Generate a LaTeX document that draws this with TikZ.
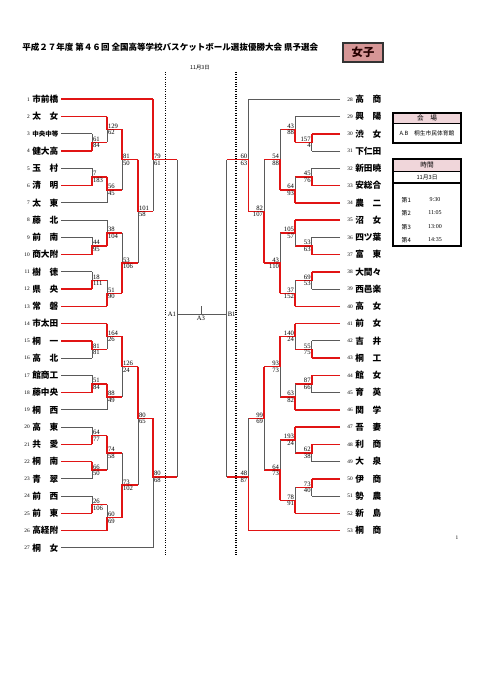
\documentclass[tikz,border=0pt]{standalone}
\usepackage{fontspec}
\setmainfont{Liberation Serif}
\newfontfamily\jp{Noto Sans CJK JP}
\usetikzlibrary{positioning}

\definecolor{winred}{RGB}{225,20,20}
\definecolor{losegray}{RGB}{90,90,90}
\definecolor{headpink}{RGB}{240,214,218}
\definecolor{tagpink}{RGB}{214,150,150}

\tikzset{
  win/.style={draw=winred,line width=1.2pt},
  lose/.style={draw=losegray,line width=0.55pt},
  score/.style={font=\fontsize{5}{5}\selectfont,inner sep=0.6pt},
  team/.style={inner sep=0pt},
  num/.style={font=\fontsize{4}{4}\selectfont,inner sep=0pt},
  infobox/.style={draw=black,line width=1pt},
}

\newcounter{mt}
\newcommand{\ry}[1]{82.05+17.25*(#1)}
% x, top t, bottom t, out t, winner t, top score, bottom score, next x, side
\newcommand{\match}[9]{%
  \stepcounter{mt}%
  \draw[lose] (#1,{\ry{#2}}) -- (#1,{\ry{#3}});
  \draw[win] (#1,{\ry{#5}}) -- (#1,{\ry{#4}}) -- (#8,{\ry{#4}});
  \node[score,anchor=south #9] (m\arabic{mt}a) at (#1,{\ry{#4}}) {#6};
  \node[score,anchor=north #9] (m\arabic{mt}b) at (#1,{\ry{#4}}) {#7};}

\begin{document}
\begin{tikzpicture}[x=0.75pt,y=-0.75pt]
\useasboundingbox (0,0) rectangle (481,680);

% title
\node[anchor=west,font=\jp\bfseries\fontsize{6.4}{7}\selectfont,inner sep=0pt] (title) at (22,47) {平成２７年度 第４６回 全国高等学校バスケットボール選抜優勝大会 県予選会};
\draw[fill=tagpink,draw=black!80,line width=0.8pt] (343,43) rectangle (383,62);
\node[font=\jp\bfseries\fontsize{8.5}{9}\selectfont,text=black!85!red] (girls) at (363,52.5) {女子};
\node[font=\jp\fontsize{4}{4}\selectfont,inner sep=0pt] (day) at (200,68) {11月3日};

% court lines
\draw[densely dotted,line width=0.8pt] (165.7,72) -- (165.7,556);
\draw[densely dotted,line width=0.8pt] (236,72) -- (236,556);

% left teams
\foreach \name [count=\k] in {市前橋,太　女,中央中等,健大高,玉　村,清　明,太　東,藤　北,前　南,商大附,樹　徳,県　央,常　磐,市太田,桐　一,高　北,館商工,藤中央,桐　西,高　東,共　愛,桐　南,青　翠,前　西,前　東,高経附,桐　女}{
  \pgfmathsetmacro{\fs}{\k==3 ? 4.9 : 6.5}
  \node[team,anchor=west,font=\jp\bfseries\fontsize{\fs}{7}\selectfont] (L\k) at (32,{\ry{\k}}) {\name};
  \node[num,anchor=east] (nL\k) at (30,{\ry{\k}}) {\k};
}

% right teams
\foreach \name [count=\k] in {高　商,興　陽,渋　女,下仁田,新田暁,安総合,農　二,沼　女,四ツ葉,富　東,大間々,西邑楽,高　女,前　女,吉　井,桐　工,館　女,育　英,関　学,吾　妻,利　商,大　泉,伊　商,勢　農,新　島,桐　商}{
  \pgfmathtruncatemacro{\nr}{\k+27}
  \node[team,anchor=west,font=\jp\bfseries\fontsize{6.5}{7}\selectfont] (R\nr) at (355,{\ry{\k}}) {\name};
  \node[num,anchor=east] (nR\nr) at (353,{\ry{\k}}) {\nr};
}

% left team lines
\foreach \k/\xe/\st in {1/153/win,2/107/win,3/92/lose,4/92/win,5/92/lose,6/92/win,7/107/lose,8/107/lose,9/92/lose,10/92/win,11/92/lose,12/92/win,13/107/win,14/107/win,15/92/win,16/92/lose,17/92/lose,18/92/win,19/107/lose,20/92/lose,21/92/win,22/92/win,23/92/lose,24/92/lose,25/92/win,26/107/win,27/153/lose}
  \draw[\st] (61,{\ry{\k}}) -- (\xe,{\ry{\k}});

% right team lines
\foreach \k/\xe/\st in {1/248.3/lose,2/295/lose,3/311.7/win,4/311.7/lose,5/311.7/lose,6/311.7/win,7/295/win,8/295/win,9/311.7/lose,10/311.7/win,11/311.7/win,12/311.7/lose,13/295/win,14/295/win,15/311.7/lose,16/311.7/win,17/311.7/win,18/311.7/lose,19/295/win,20/295/win,21/311.7/win,22/311.7/lose,23/311.7/win,24/311.7/lose,25/295/win,26/248.3/win}
  \draw[\st] (340,{\ry{\k}}) -- (\xe,{\ry{\k}});

% left block
\match{92}{3}{4}{3.5}{4}{61}{84}{107}{west}
\match{107}{2}{3.5}{2.75}{2}{129}{62}{122}{west}
\match{92}{5}{6}{5.5}{6}{7}{183}{107}{west}
\match{107}{5.5}{7}{6.25}{5.5}{56}{45}{122}{west}
\match{122}{2.75}{6.25}{4.5}{2.75}{81}{50}{138}{west}
\match{92}{9}{10}{9.5}{10}{44}{95}{107}{west}
\match{107}{8}{9.5}{8.75}{9.5}{38}{104}{122}{west}
\match{92}{11}{12}{11.5}{12}{18}{111}{107}{west}
\match{107}{11.5}{13}{12.25}{13}{51}{90}{122}{west}
\match{122}{8.75}{12.25}{10.5}{12.25}{53}{106}{138}{west}
\match{138}{4.5}{10.5}{7.5}{4.5}{101}{58}{153}{west}
\match{153}{1}{7.5}{4.5}{1}{79}{61}{177}{west}
\match{92}{15}{16}{15.5}{15}{81}{81}{107}{west}
\match{107}{14}{15.5}{14.75}{14}{164}{26}{122}{west}
\match{92}{17}{18}{17.5}{18}{51}{84}{107}{west}
\match{107}{17.5}{19}{18.25}{17.5}{88}{49}{122}{west}
\match{122}{14.75}{18.25}{16.5}{14.75}{126}{24}{138}{west}
\match{92}{20}{21}{20.5}{21}{64}{77}{107}{west}
\match{92}{22}{23}{22.5}{22}{66}{50}{107}{west}
\match{107}{20.5}{22.5}{21.5}{20.5}{74}{58}{122}{west}
\match{92}{24}{25}{24.5}{25}{26}{106}{107}{west}
\match{107}{24.5}{26}{25.25}{26}{60}{69}{122}{west}
\match{122}{21.5}{25.25}{23.375}{25.25}{73}{102}{138}{west}
\match{138}{16.5}{23.375}{19.5}{16.5}{80}{65}{153}{west}
\match{153}{19.5}{27}{22.9}{19.5}{80}{68}{177}{west}

% right block
\match{311.7}{3}{4}{3.5}{3}{157}{4}{295}{east}
\match{295}{2}{3.5}{2.75}{3.5}{43}{88}{280}{east}
\match{311.7}{5}{6}{5.5}{6}{45}{76}{295}{east}
\match{295}{5.5}{7}{6.25}{7}{64}{93}{280}{east}
\match{280}{2.75}{6.25}{4.5}{6.25}{54}{88}{264}{east}
\match{311.7}{9}{10}{9.5}{10}{53}{63}{295}{east}
\match{295}{8}{9.5}{8.75}{8}{105}{57}{280}{east}
\match{311.7}{11}{12}{11.5}{11}{69}{53}{295}{east}
\match{295}{11.5}{13}{12.25}{13}{37}{152}{280}{east}
\match{280}{8.75}{12.25}{10.5}{12.25}{43}{110}{264}{east}
\match{264}{4.5}{10.5}{7.5}{10.5}{82}{107}{248.3}{east}
\match{248.3}{1}{7.5}{4.5}{7.5}{60}{63}{226.7}{east}
\match{311.7}{15}{16}{15.5}{16}{55}{75}{295}{east}
\match{295}{14}{15.5}{14.75}{14}{140}{24}{280}{east}
\match{311.7}{17}{18}{17.5}{17}{87}{66}{295}{east}
\match{295}{17.5}{19}{18.25}{19}{63}{82}{280}{east}
\match{280}{14.75}{18.25}{16.5}{14.75}{93}{73}{264}{east}
\match{311.7}{21}{22}{21.5}{21}{62}{38}{295}{east}
\match{295}{20}{21.5}{20.75}{20}{193}{24}{280}{east}
\match{311.7}{23}{24}{23.5}{23}{73}{40}{295}{east}
\match{295}{23.5}{25}{24.25}{25}{78}{91}{280}{east}
\match{280}{20.75}{24.25}{22.5}{24.25}{64}{73}{264}{east}
\match{264}{16.5}{22.5}{19.5}{16.5}{99}{69}{248.3}{east}
\match{248.3}{19.5}{26}{22.9}{26}{48}{87}{226.7}{east}

% final
\draw[lose] (177,{\ry{4.5}}) -- (177,{\ry{22.9}});
\draw[lose] (226.7,{\ry{4.5}}) -- (226.7,{\ry{22.9}});
\coordinate (A1) at (177,314);
\coordinate (B1) at (226.7,314);
\coordinate (A3) at (201,314);
\draw[lose] (A1) -- (B1);
\draw[lose] (A3) -- ++(0,-8);
\node[score,anchor=east] (a1) at (A1) {A1};
\node[score,anchor=west] (b1) at (B1) {B1};
\node[score,anchor=north] (a3) at ([yshift=-1pt]A3) {A3};

% venue
\draw[fill=headpink,draw=none] (393,113) rectangle (461,123);
\draw[infobox] (393,113) rectangle (461,143);
\draw[line width=0.5pt] (393,123) -- (461,123);
\node[font=\jp\fontsize{5}{5}\selectfont] (venue) at (427,118) {会　場};
\node[font=\jp\fontsize{4.3}{5}\selectfont] (hall) at (427,133) {A.B　桐生市民体育館};

% times
\draw[fill=headpink,draw=none] (393,159) rectangle (461,171);
\draw[infobox] (393,159) rectangle (461,246);
\draw[line width=0.5pt] (393,171) -- (461,171);
\draw[line width=0.9pt] (393,183) -- (461,183);
\node[font=\jp\fontsize{5}{5}\selectfont] (time) at (427,165) {時間};
\node[font=\jp\fontsize{4.3}{5}\selectfont] (date) at (427,177) {11月3日};
\foreach \r/\t [count=\i] in {200/9:30,213/11:05,227/13:00,240/14:35}{
  \node[font=\jp\fontsize{4.5}{5}\selectfont,anchor=west] (g\i) at (397,\r) {第\i};
  \node[font=\fontsize{4.5}{5}\selectfont] (t\i) at (435,\r) {\t};
}

\node[font=\fontsize{4}{4}\selectfont] (page) at (457,538) {1};
\end{tikzpicture}
\end{document}
